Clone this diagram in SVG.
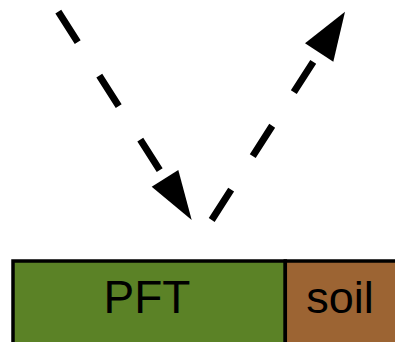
<svg xmlns="http://www.w3.org/2000/svg" width="395" height="342" viewBox="0 0 395 342">
<style>
.conn{fill:none;stroke:#000;stroke-width:7;stroke-dasharray:36 40;stroke-linecap:butt}
.head{fill:#000;stroke:none}
.box{stroke:#000;stroke-width:3.5}
.lbl{font-family:"Liberation Sans",Arial,sans-serif;font-size:46px;fill:#000;text-anchor:middle}
</style>
<rect width="395" height="342" fill="#fff"/>
<g id="connectors">
<path class="conn" d="M58.3,11.7 L165,178.3"/>
<polygon class="head" points="191.7,220 151.7,186.7 178.3,170"/>
<path class="conn" d="M211.7,220 L319.2,52.5"/>
<polygon class="head" points="345,11.7 305,43.3 333.3,61.7"/>
</g>
<g id="pft">
<rect class="box" x="13" y="261" width="272.3" height="100" fill="#5b8226"/>
<text class="lbl" x="147" y="313">PFT</text>
</g>
<g id="soil">
<rect class="box" x="285.3" y="261" width="130" height="100" fill="#9c6433"/>
<text class="lbl" x="340" y="313" style="font-size:45px">soil</text>
</g>
</svg>
